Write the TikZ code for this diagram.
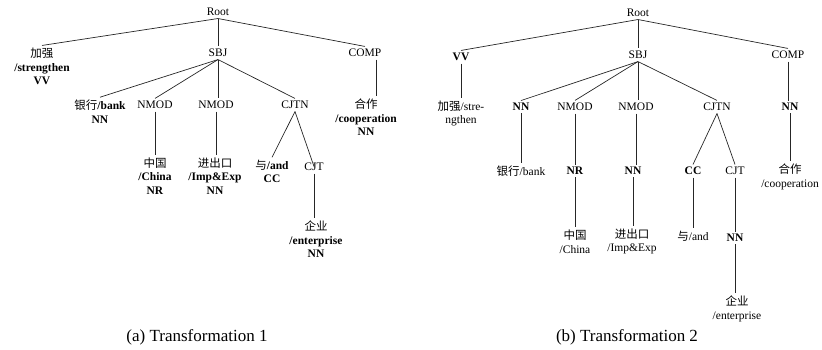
\documentclass[tikz,border=0pt]{standalone}
\usepackage{fontspec}
\setmainfont{Liberation Serif}
\newfontfamily\cjk{Noto Sans CJK SC}
\begin{document}
\begin{tikzpicture}[x=1pt,y=-1pt,
  lbl/.style={font=\fontsize{11.5}{13.5}\selectfont, align=center, inner sep=2.5pt},
  captext/.style={font=\fontsize{17}{20}\selectfont, inner sep=0pt},
  edge/.style={line width=0.7pt, black!85}]
\useasboundingbox (0,0) rectangle (822,349);
% ---------- (a) Transformation 1 ----------
\node[lbl] (rootA) at (218,12) {Root};
\node[lbl] (jqA) at (42,66.5) {{\cjk 加强}\\\textbf{/strengthen}\\\textbf{VV}};
\node[lbl] (sbjA) at (218,53) {SBJ};
\node[lbl] (compA) at (365,53) {COMP};
\node[lbl] (bankA) at (100,111.5) {{\cjk 银行}\textbf{/bank}\\\textbf{NN}};
\node[lbl] (nmod1A) at (155,105) {NMOD};
\node[lbl] (nmod2A) at (216,105) {NMOD};
\node[lbl] (cjtnA) at (295,105) {CJTN};
\node[lbl] (coopA) at (366,117.5) {{\cjk 合作}\\\textbf{/cooperation}\\\textbf{NN}};
\node[lbl] (chinaA) at (155,176) {{\cjk 中国}\\\textbf{/China}\\\textbf{NR}};
\node[lbl] (impA) at (215,176) {{\cjk 进出口}\\\textbf{/Imp\&Exp}\\\textbf{NN}};
\node[lbl] (andA) at (272,171.5) {{\cjk 与}\textbf{/and}\\\textbf{CC}};
\node[lbl] (cjtA) at (314,167) {CJT};
\node[lbl] (entA) at (316,239.5) {{\cjk 企业}\\\textbf{/enterprise}\\\textbf{NN}};
\draw[edge] (rootA.south) -- (jqA.north);
\draw[edge] (rootA.south) -- (sbjA.north);
\draw[edge] (rootA.south) -- (compA.north);
\draw[edge] (sbjA.south) -- (bankA.north);
\draw[edge] (sbjA.south) -- (nmod1A.north);
\draw[edge] (sbjA.south) -- (nmod2A.north -| sbjA.south);
\draw[edge] (sbjA.south) -- (cjtnA.north);
\draw[edge] ([xshift=11pt]compA.south) -- ([xshift=11pt]compA.south |- coopA.north);
\draw[edge] (nmod1A.south) -- (nmod1A.south |- chinaA.north);
\draw[edge] (nmod2A.south) -- (nmod2A.south |- impA.north);
\draw[edge] (cjtnA.south) -- (andA.north);
\draw[edge] (cjtnA.south) -- ([yshift=-6pt]cjtA.north);
\draw[edge] (cjtA.south) -- (cjtA.south |- entA.north);
% ---------- (b) Transformation 2 ----------
\node[lbl] (rootB) at (638,13) {Root};
\node[lbl] (vvB) at (461,57) {\textbf{VV}};
\node[lbl] (sbjB) at (638,55) {SBJ};
\node[lbl] (compB) at (788,55) {COMP};
\node[lbl] (jqB) at (461,113.5) {{\cjk 加强}/stre-\\ngthen};
\node[lbl] (nnbB) at (521,107) {\textbf{NN}};
\node[lbl] (nmod1B) at (575,107) {NMOD};
\node[lbl] (nmod2B) at (636,107) {NMOD};
\node[lbl] (cjtnB) at (717,107) {CJTN};
\node[lbl] (nncB) at (790,107) {\textbf{NN}};
\node[lbl] (bankB) at (521,171) {{\cjk 银行}/bank};
\node[lbl] (nrB) at (575,171) {\textbf{NR}};
\node[lbl] (nnmB) at (633,171) {\textbf{NN}};
\node[lbl] (ccB) at (693,171) {\textbf{CC}};
\node[lbl] (cjtB) at (735,171) {CJT};
\node[lbl] (coopB) at (790,177) {{\cjk 合作}\\/cooperation};
\node[lbl] (chinaB) at (575,241.5) {{\cjk 中国}\\/China};
\node[lbl] (impB) at (632,241.5) {{\cjk 进出口}\\/Imp\&Exp};
\node[lbl] (andB) at (693,236) {{\cjk 与}/and};
\node[lbl] (nneB) at (735,238) {\textbf{NN}};
\node[lbl] (entB) at (737,309) {{\cjk 企业}\\/enterprise};
\draw[edge] (rootB.south) -- (vvB.north);
\draw[edge] (rootB.south) -- (sbjB.north);
\draw[edge] (rootB.south) -- (compB.north);
\draw[edge] (vvB.south) -- (vvB.south |- jqB.north);
\draw[edge] (compB.south) -- (compB.south |- nncB.north);
\draw[edge] (sbjB.south) -- (nnbB.north);
\draw[edge] (sbjB.south) -- (nmod1B.north);
\draw[edge] (sbjB.south) -- (nmod2B.north -| sbjB.south);
\draw[edge] (sbjB.south) -- (cjtnB.north);
\draw[edge] (nnbB.south) -- (nnbB.south |- bankB.north);
\draw[edge] (nmod1B.south) -- (nmod1B.south |- nrB.north);
\draw[edge] (nmod2B.south) -- (nmod2B.south |- nnmB.north);
\draw[edge] (cjtnB.south) -- (ccB.north);
\draw[edge] (cjtnB.south) -- (cjtB.north);
\draw[edge] (nncB.south) -- (nncB.south |- coopB.north);
\draw[edge] (nrB.south) -- (nrB.south |- chinaB.north);
\draw[edge] (nnmB.south) -- (nnmB.south |- impB.north);
\draw[edge] (ccB.south) -- (ccB.south |- andB.north);
\draw[edge] (cjtB.south) -- (cjtB.south |- nneB.north);
\draw[edge] (nneB.south) -- (nneB.south |- entB.north);
% ---------- captions ----------
\node[captext] (capA) at (197,337) {(a) Transformation 1};
\node[captext] (capB) at (627,337) {(b) Transformation 2};
\end{tikzpicture}
\end{document}
